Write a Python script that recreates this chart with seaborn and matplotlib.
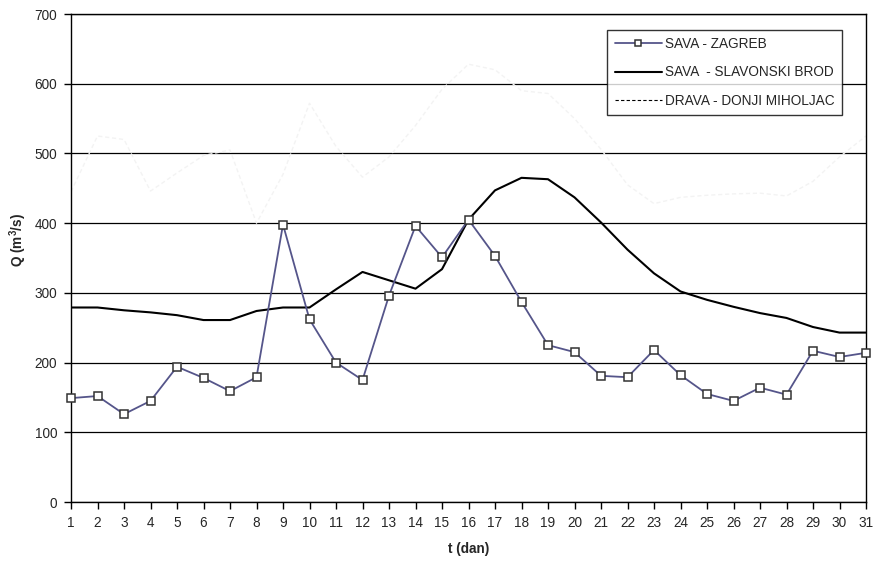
import numpy as np
import pandas as pd
import matplotlib
matplotlib.use("Agg")
import matplotlib.pyplot as plt
import seaborn as sns

days = list(range(1, 32))

sava_zagreb = [149, 152, 126, 145, 194, 178, 159, 179, 398, 262,
               200, 175, 296, 396, 351, 405, 353, 287, 225, 215,
               181, 179, 218, 182, 155, 145, 164, 154, 217, 208, 214]

sava_slavonski_brod = [279, 279, 275, 272, 268, 261, 261, 274, 279, 279,
                       305, 330, 318, 306, 334, 405, 447, 465, 463, 437,
                       401, 362, 328, 302, 290, 280, 271, 264, 251, 243, 243]

drava_donji_miholjac = [445, 525, 520, 446, 472, 497, 505, 400, 470, 572,
                        510, 466, 495, 540, 592, 628, 620, 590, 586, 550,
                        506, 455, 428, 437, 440, 442, 443, 439, 460, 495, 525]

labels = ["SAVA - ZAGREB", "SAVA  - SLAVONSKI BROD", "DRAVA - DONJI MIHOLJAC"]
y_ticks = list(range(0, 701, 100))

sns.set_style("white")
plt.rcParams["font.family"] = ["Liberation Sans", "DejaVu Sans"]
plt.rcParams["mathtext.default"] = "regular"

FS = 9.8

fig = plt.figure(figsize=(8.75, 5.63), dpi=100)
ax = fig.add_axes([71 / 875, 1 - 502 / 563, 795 / 875, 488 / 563])

for yv in y_ticks:
    ax.axhline(yv, color="black", lw=0.9, zorder=0)

sns.lineplot(x=days, y=sava_zagreb, ax=ax, color="#55558a", lw=1.3,
             marker="s", markersize=5.5, markerfacecolor="white",
             markeredgecolor="#333333", markeredgewidth=1.1,
             label=labels[0], clip_on=False, zorder=4)
sns.lineplot(x=days, y=sava_slavonski_brod, ax=ax, color="black", lw=1.5,
             label=labels[1], zorder=3)
sns.lineplot(x=days, y=drava_donji_miholjac, ax=ax, color="#f3f3f3", lw=1.0,
             linestyle=(0, (3, 2)), label=labels[2], zorder=2)

ax.set_xlim(1, 31)
ax.set_ylim(0, 700)
ax.set_xticks(days)
ax.set_yticks(y_ticks)
ax.tick_params(axis="both", direction="out", length=5, width=1,
               color="black", labelsize=FS, pad=5, left=True, bottom=True)
for s in ax.spines.values():
    s.set_visible(True)
    s.set_color("black")
    s.set_linewidth(1.0)

ax.set_xlabel("t (dan)", fontsize=FS, fontweight="bold", labelpad=9)
ax.set_ylabel(r"Q (m$^{3}$/s)", fontsize=FS, fontweight="bold")
ax.yaxis.set_label_coords(-0.053, 0.537)

leg = ax.legend(loc="upper right", bbox_to_anchor=(0.970, 0.968),
                borderaxespad=0, frameon=True, fancybox=False, shadow=False,
                fontsize=FS, handlelength=3.5, handletextpad=0.2,
                labelspacing=1.05, borderpad=0.55, markerscale=0.75)
leg.get_frame().set_edgecolor("black")
leg.get_frame().set_linewidth(1.0)
leg.get_lines()[2].set_color("black")
leg.get_lines()[2].set_linewidth(0.8)

fig.savefig("out.png", dpi=100)
